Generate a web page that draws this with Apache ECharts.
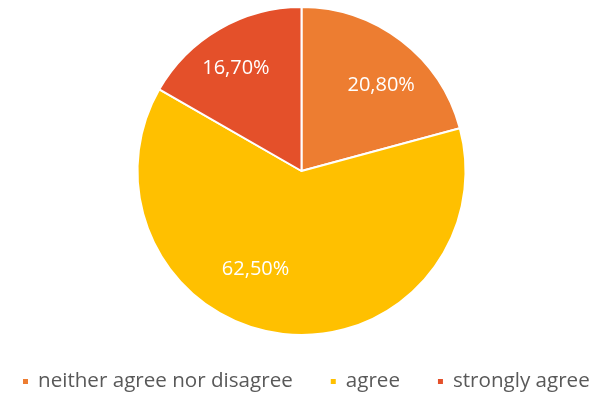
<!DOCTYPE html>
<html>
<head>
<meta charset="utf-8">
<style>
  html, body { margin: 0; padding: 0; background: #ffffff; }
  #chart { width: 597px; height: 394px; }
</style>
<script src="https://cdn.jsdelivr.net/npm/echarts@6/dist/echarts.min.js"></script>
</head>
<body>
<div id="chart"></div>
<script>
// Survey answers and their shares (percent)
const categories = ['neither agree nor disagree', 'agree', 'strongly agree'];
const shares = [20.8, 62.5, 16.7];

const sliceColors = ['#ED7D31', '#FFC000', '#E4502A'];
// nudges that move each percentage label outward from the default inside spot
const labelNudge = [[28, -18], [-35, 14], [-23, -29]];

const chart = echarts.init(document.getElementById('chart'), null, { renderer: 'canvas' });

const fmt = v => v.toFixed(2).replace('.', ',') + '%';

chart.setOption({
  animation: false,
  backgroundColor: '#ffffff',
  color: sliceColors,
  legend: {
    top: 371,
    left: 21,
    right: 0,
    padding: 0,
    icon: 'rect',
    itemWidth: 7,
    itemHeight: 7,
    itemGap: 36,
    data: categories,
    textStyle: {
      fontFamily: 'Open Sans',
      fontSize: 20.6,
      color: '#595959',
      padding: [0, 0, 0, 4]
    }
  },
  series: [{
    type: 'pie',
    center: [301.5, 171],
    radius: [0, 164],
    startAngle: 90,
    clockwise: true,
    itemStyle: { borderColor: '#ffffff', borderWidth: 2 },
    label: {
      show: true,
      position: 'inside',
      color: '#ffffff',
      fontFamily: 'Open Sans',
      fontSize: 20,
      formatter: p => fmt(p.value)
    },
    labelLine: { show: false },
    emphasis: { disabled: true },
    data: categories.map((name, i) => ({
      name,
      value: shares[i],
      label: { offset: labelNudge[i] }
    }))
  }]
});
</script>
</body>
</html>
